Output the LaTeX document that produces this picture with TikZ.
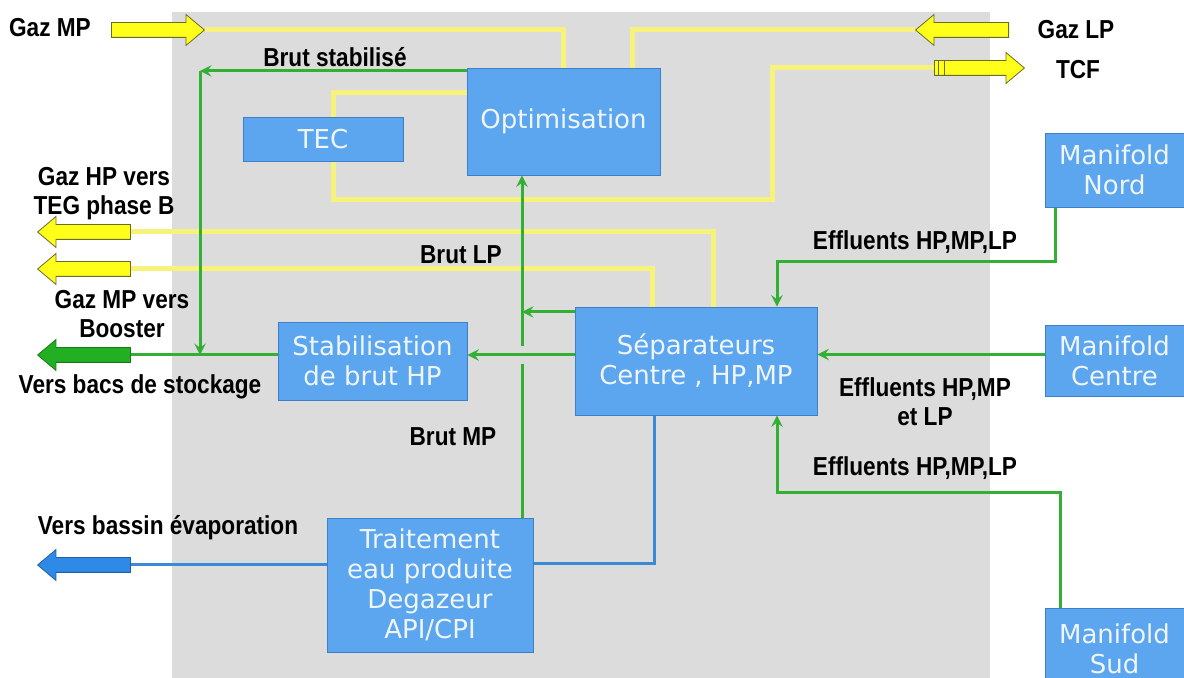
\documentclass[tikz,border=0pt]{standalone}
\usepackage{fontspec}
\setmainfont{DejaVu Sans}
\newfontfamily\lblfont[FakeStretch=0.87]{Liberation Sans}
\usepackage{xcolor}
\usepackage{tikz}
\usetikzlibrary{shapes.arrows, arrows, positioning, calc}
\definecolor{bggray}{HTML}{DCDCDC}
\definecolor{boxblue}{HTML}{5BA6EE}
\definecolor{boxedge}{HTML}{3D7FC8}
\definecolor{boxtext}{HTML}{F0F5FA}
\definecolor{flowyellow}{HTML}{F7F27A}
\definecolor{arrowyellow}{HTML}{FFFF1A}
\definecolor{arrowedge}{HTML}{6B6B2A}
\definecolor{flowgreen}{HTML}{33B033}
\definecolor{arrowgreen}{HTML}{22B022}
\definecolor{flowblue}{HTML}{3A8AD6}
\definecolor{arrowblue}{HTML}{2E8AE6}
\pgfdeclarelayer{bg}
\pgfdeclarelayer{flows}
\pgfsetlayers{bg,flows,main}

\begin{document}
\begin{tikzpicture}[
    x=0.5pt, y=-0.5pt,
    box/.style={rectangle, draw=boxedge, fill=boxblue, text=boxtext, align=center, inner sep=0pt, font=\fontsize{13}{15}\selectfont},
    lbl/.style={align=center, inner sep=0pt, font=\lblfont\bfseries\fontsize{13}{14.5}\selectfont},
    yline/.style={line width=2.5pt, draw=flowyellow},
    gline/.style={line width=1.5pt, draw=flowgreen},
    garrow/.style={gline, ->, >=stealth},
    bline/.style={line width=1.5pt, draw=flowblue},
    bigarrow/.style={single arrow, inner sep=3.5pt, minimum height=46.5pt, single arrow head extend=4pt, single arrow tip angle=80},
    yarrow/.style={bigarrow, fill=arrowyellow, draw=arrowedge, thin},
    left/.style={shape border rotate=180}
]
    \useasboundingbox (0,0) rectangle (1184,678);
    \begin{pgfonlayer}{bg}
        \fill[bggray] (172,12) rectangle (990,678);
    \end{pgfonlayer}

    % Units
    \node[box, minimum width=96.5pt, minimum height=53.5pt] (optim) at (563.5,121.5) {Optimisation};
    \node[box, minimum width=80pt, minimum height=22pt] (tec) at (323,139) {TEC};
    \node[box, minimum width=94.5pt, minimum height=39pt] (stab) at (372.5,361) {Stabilisation\\de brut HP};
    \node[box, minimum width=121pt, minimum height=54pt] (sep) at (696,361) {Séparateurs\\Centre , HP,MP};
    \node[box, minimum width=103pt, minimum height=67pt] (trait) at (430,585) {Traitement\\eau produite\\Degazeur\\API/CPI};
    \node[box, minimum width=69.5pt, minimum height=37pt] (nord) at (1114.5,170) {Manifold\\Nord};
    \node[box, minimum width=69.5pt, minimum height=35.5pt] (centre) at (1114.5,360.5) {Manifold\\Centre};
    \node[box, minimum width=69.5pt, minimum height=41pt] (sud) at (1114.5,649) {Manifold\\Sud};

    % Inlets / outlets
    \node[yarrow] (gazmp) at (153.5,30) {};
    \node[yarrow, left] (gazlp) at (966.5,30) {};
    \node[yarrow, minimum height=45pt] (tcf) at (975,68) {};
    \node[yarrow, left] (tegarrow) at (88.5,232) {};
    \node[yarrow, left] (boostarrow) at (88.5,269) {};
    \node[bigarrow, left, fill=arrowgreen, draw=arrowgreen!70!black, thin] (stockarrow) at (88.5,355) {};
    \node[bigarrow, left, fill=arrowblue, draw=arrowblue!70!black, thin] (bassinarrow) at (88.5,565) {};
    \foreach \dx in {2,5}
        \draw[arrowedge, thin] ([xshift=\dx pt]tcf.tail) ++(0,-7) -- ++(0,14);

    \coordinate (tecjoint) at (333,200);
    \coordinate (tcfbend) at (772,200);
    \coordinate (brutcorner) at (200,71);
    \coordinate (brutjoin) at (200,355);
    \coordinate (lpjoin) at (522,312);
    \coordinate (nordbend) at (777,262);
    \coordinate (sudbend) at (777,493);

    \begin{pgfonlayer}{flows}
        % Gas
        \draw[yline] (gazmp.tip) -| (optim.north);
        \draw[yline] (gazlp.tip) -| ([xshift=34.25pt]optim.north);
        \draw[yline] ([yshift=14.25pt]optim.west) -| (tecjoint) |- (tcfbend) |- (tcf.tail);
        \draw[yline] ([xshift=8.5pt]sep.north) |- (tegarrow.tail);
        \draw[yline] ([xshift=-22pt]sep.north) |- (boostarrow.tail);

        % Crude
        \draw[garrow] ([yshift=25.25pt]optim.west) -- (brutcorner);
        \draw[garrow] (brutcorner) -- (brutjoin);
        \draw[gline] (stab.west |- stockarrow.tail) -- (stockarrow.tail);
        \draw[garrow] ([xshift=46pt]trait.north) -- ([xshift=46pt]trait.north |- optim.south);
        \draw[garrow, preaction={draw=bggray, line width=9pt, -}] ([yshift=3pt]sep.west) -- ([yshift=3pt]stab.east);
        \draw[garrow] ([yshift=24.5pt]sep.west) -- (lpjoin);

        % Effluents
        \draw[garrow] ([xshift=-29.75pt]nord.south) |- (nordbend) -- ([xshift=40.5pt]sep.north);
        \draw[garrow] ([yshift=3pt]centre.west) -- ([yshift=3pt]centre.west -| sep.east);
        \draw[garrow] ([xshift=-27.25pt]sud.north) |- (sudbend) -- ([xshift=40.5pt]sep.south);

        % Water
        \draw[bline] ([xshift=-21pt]sep.south) |- ([yshift=10.5pt]trait.east);
        \draw[bline] ([yshift=10pt]trait.west) -- (bassinarrow.tail);
    \end{pgfonlayer}

    % Labels
    \node[lbl] (lgazmp) at (50,28) {Gaz MP};
    \node[lbl] (lbrutstab) at (335,57) {Brut stabilisé};
    \node[lbl] (lgazlp) at (1076,30) {Gaz LP};
    \node[lbl] (ltcf) at (1078,70) {TCF};
    \node[lbl] (lteg) at (104,194) {Gaz HP vers\\TEG phase B};
    \node[lbl] (lbooster) at (122,314) {Gaz MP vers\\Booster};
    \node[lbl] (lstock) at (140,387) {Vers bacs de stockage};
    \node[lbl] (lbrutlp) at (461,255) {Brut LP};
    \node[lbl] (lbrutmp) at (453,437) {Brut MP};
    \node[lbl] (leffnord) at (915,242) {Effluents HP,MP,LP};
    \node[lbl] (leffcentre) at (925,402) {Effluents HP,MP\\et LP};
    \node[lbl] (leffsud) at (915,468) {Effluents HP,MP,LP};
    \node[lbl] (lbassin) at (168,528) {Vers bassin évaporation};
\end{tikzpicture}
\end{document}
